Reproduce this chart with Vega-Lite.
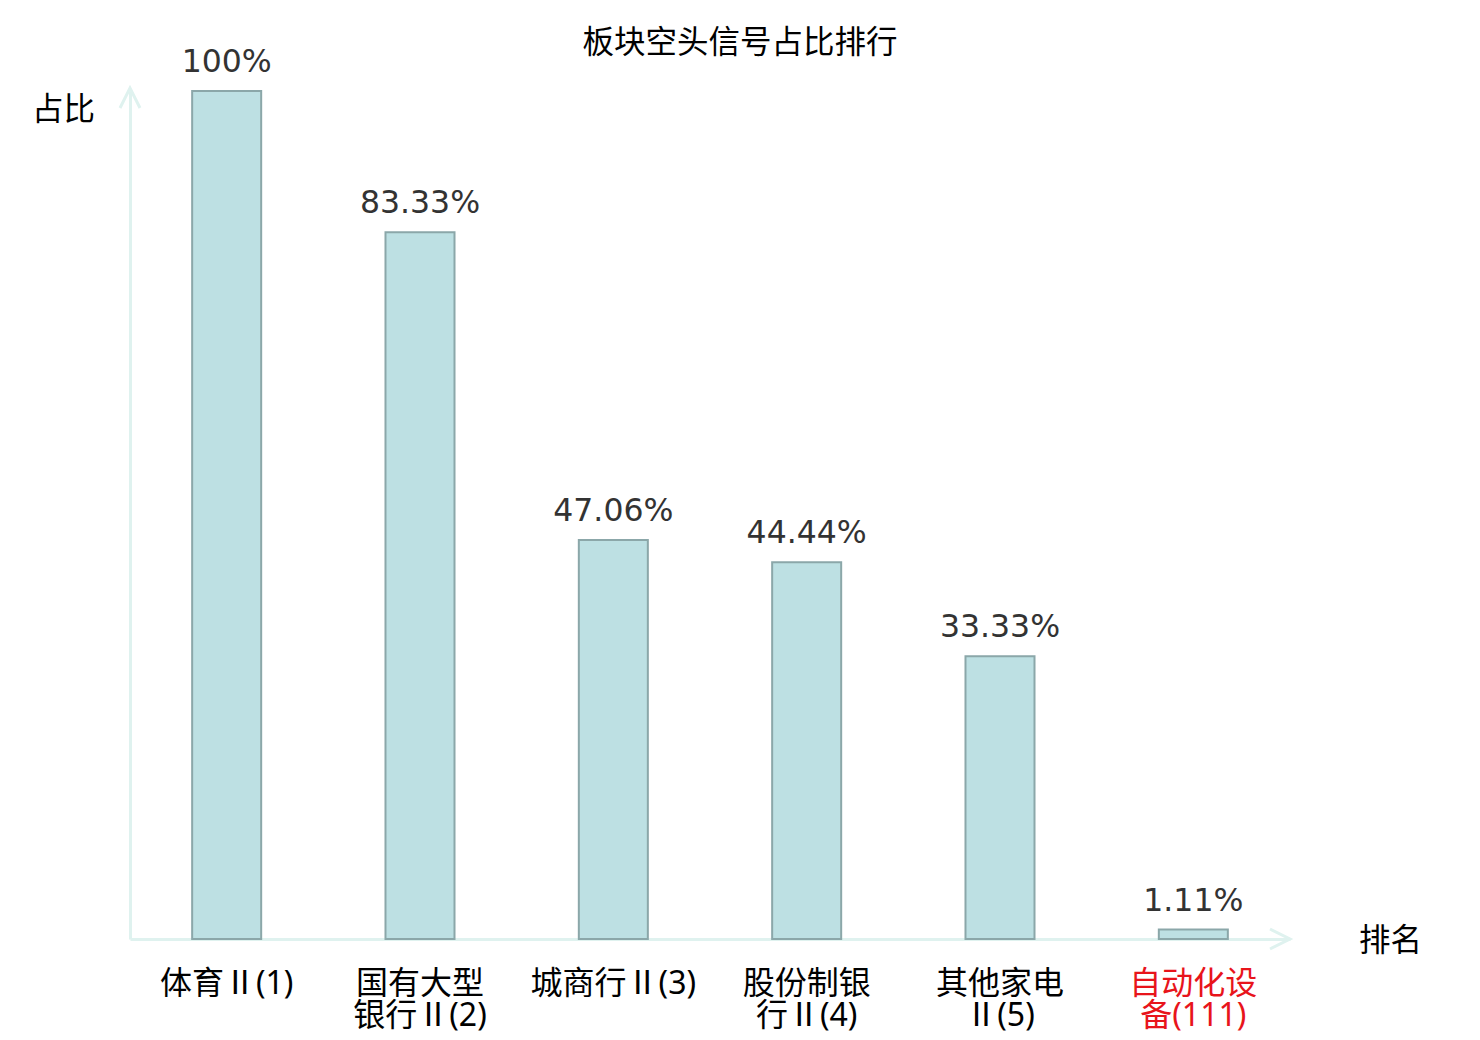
{
  "$schema": "https://vega.github.io/schema/vega-lite/v6.json",
  "width": 1160,
  "height": 848,
  "autosize": {"type": "none"},
  "padding": {"left": 130, "top": 91, "right": 190, "bottom": 101},
  "background": "white",
  "title": {
    "text": "板块空头信号占比排行",
    "font": "Noto Sans CJK SC",
    "fontSize": 31.5,
    "fontWeight": "normal",
    "color": "#000000",
    "anchor": "middle",
    "dx": 30,
    "offset": -12
  },
  "config": {"view": {"stroke": null}},
  "data": {
    "values": [
      {"name": "体育Ⅱ(1)", "value": 1.0},
      {"name": "国有大型银行Ⅱ(2)", "value": 0.8333},
      {"name": "城商行Ⅱ(3)", "value": 0.4706},
      {"name": "股份制银行Ⅱ(4)", "value": 0.4444},
      {"name": "其他家电Ⅱ(5)", "value": 0.3333},
      {"name": "自动化设备(111)", "value": 0.0111}
    ]
  },
  "layer": [
    {
      "mark": {"type": "bar", "fill": "#bde0e3", "stroke": "#8ba7a9", "strokeWidth": 2},
      "encoding": {
        "x": {
          "field": "name",
          "type": "nominal",
          "sort": null,
          "scale": {"paddingInner": 0.643, "paddingOuter": 0.3215},
          "axis": {
            "title": "排名",
            "titleX": 1260,
            "titleY": 2,
            "titleAngle": 0,
            "titleAlign": "center",
            "titleBaseline": "middle",
            "titleFont": "Noto Sans CJK SC",
            "titleFontSize": 31.5,
            "titleFontWeight": "normal",
            "titleColor": "#000000",
            "labelAngle": 0,
            "labelFont": "Noto Sans, Noto Sans CJK SC",
            "labelFontSize": 32,
            "labelColor": {"condition": {"test": "datum.value === '自动化设备(111)'", "value": "#e8141b"}, "value": "#000000"},
            "labelExpr": "length(datum.label) > 7 ? [substring(datum.label, 0, 4), substring(datum.label, 4)] : datum.label",
            "labelLineHeight": 32,
            "labelPadding": 29,
            "labelLimit": 0,
            "ticks": false,
            "domainColor": "#dff2ef",
            "domainWidth": 3
          }
        },
        "y": {
          "field": "value",
          "type": "quantitative",
          "scale": {"domain": [0, 1], "nice": false},
          "axis": {
            "title": "占比",
            "titleAngle": 0,
            "titleX": -67,
            "titleY": 19,
            "titleAlign": "center",
            "titleBaseline": "middle",
            "titleFont": "Noto Sans CJK SC",
            "titleFontSize": 31.5,
            "titleFontWeight": "normal",
            "titleColor": "#000000",
            "labels": false,
            "ticks": false,
            "grid": false,
            "domainColor": "#dff2ef",
            "domainWidth": 3
          }
        }
      }
    },
    {
      "mark": {"type": "text", "baseline": "alphabetic", "dy": -19, "font": "DejaVu Sans", "fontSize": 31.5, "color": "#333333"},
      "encoding": {
        "x": {"field": "name", "type": "nominal", "sort": null},
        "y": {"field": "value", "type": "quantitative"},
        "text": {"field": "value", "format": ".2~%"}
      }
    },
    {
      "data": {"values": [{"axis": "y"}]},
      "mark": {"type": "point", "shape": "M-0.5,0.85L0,-0.15L0.5,0.85", "size": 1600, "filled": false, "stroke": "#dff2ef", "strokeWidth": 3, "opacity": 1},
      "encoding": {"x": {"value": 0}, "y": {"datum": 1}}
    },
    {
      "data": {"values": [{"axis": "x"}]},
      "mark": {"type": "point", "shape": "M-1,-0.5L0,0L-1,0.5", "size": 1600, "filled": false, "stroke": "#dff2ef", "strokeWidth": 3, "opacity": 1},
      "encoding": {"x": {"value": {"expr": "width"}}, "y": {"datum": 0}}
    }
  ]
}
